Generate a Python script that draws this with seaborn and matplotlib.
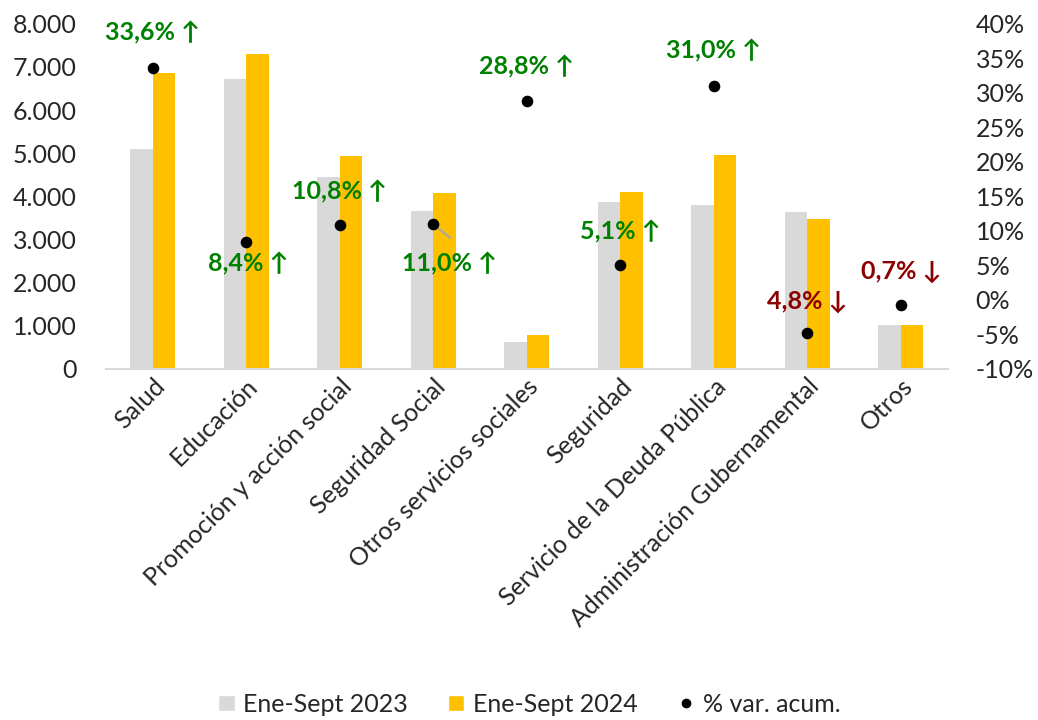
import matplotlib
matplotlib.use("Agg")
import matplotlib.pyplot as plt
import seaborn as sns
import pandas as pd
from matplotlib.patches import Patch
from matplotlib.lines import Line2D
from matplotlib.ticker import FuncFormatter

categories = ["Salud", "Educación", "Promoción y acción social", "Seguridad Social",
              "Otros servicios sociales", "Seguridad", "Servicio de la Deuda Pública",
              "Administración Gubernamental", "Otros"]
vals_2023 = [5100, 6730, 4460, 3650, 620, 3880, 3790, 3630, 1020]
vals_2024 = [6850, 7300, 4930, 4070, 790, 4090, 4970, 3470, 1020]
var_pct = [33.6, 8.4, 10.8, 11.0, 28.8, 5.1, 31.0, -4.8, -0.7]
series_names = ["Ene-Sept 2023", "Ene-Sept 2024"]
var_name = "% var. acum."

sns.set_theme(style="white")
plt.rcParams['font.family'] = ['Lato', 'DejaVu Sans']

df = pd.DataFrame({
    "cat": categories * 2,
    "val": vals_2023 + vals_2024,
    "serie": [series_names[0]] * len(categories) + [series_names[1]] * len(categories),
})
dfp = pd.DataFrame({"cat": categories, "pct": var_pct})

fig = plt.figure(figsize=(10.38, 7.2), dpi=100)
ax = fig.add_axes([0.102, 0.4875, 0.811, 0.4795])
colors = ["#d9d9d9", "#ffc000"]
sns.barplot(data=df, x="cat", y="val", hue="serie", palette=colors, width=0.48,
            gap=0, linewidth=0, saturation=1, ax=ax, legend=False)
ax.set_ylim(0, 8000)
ax.set_yticks(range(0, 8001, 1000))
ax.yaxis.set_major_formatter(FuncFormatter(lambda v, p: f"{int(v):,}".replace(",", ".")))
ax.set_xlabel("")
ax.set_ylabel("")
ax.tick_params(axis="y", labelsize=18, length=0, pad=21)
ax.tick_params(axis="x", labelsize=18, length=0, pad=4)
plt.setp(ax.get_xticklabels(), rotation=45, ha="right", rotation_mode="anchor")
for s in ["top", "right", "left"]:
    ax.spines[s].set_visible(False)
ax.spines["bottom"].set_color("#d9d9d9")
ax.spines["bottom"].set_linewidth(1.5)

ax2 = ax.twinx()
sns.scatterplot(data=dfp, x="cat", y="pct", color="black", s=70, linewidth=0, ax=ax2, zorder=5)
ax2.set_ylim(-10, 40)
ax2.set_yticks(range(-10, 41, 5))
ax2.yaxis.set_major_formatter(FuncFormatter(lambda v, p: f"{int(v)}%"))
ax2.tick_params(axis="y", labelsize=18, length=0, pad=20)
ax2.set_ylabel("")
for s in ["top", "right", "left", "bottom"]:
    ax2.spines[s].set_visible(False)
ax.set_xlim(-0.5, len(categories) - 0.5)
ax2.set_xlim(-0.5, len(categories) - 0.5)

offsets = [(0, 35), (2, -22), (0, 34), (16, -40), (0, 34), (0, 33), (0, 35), (0, 32), (0, 33)]
for i, (c, p) in enumerate(zip(categories, var_pct)):
    up = p > 0
    txt = f"{abs(p):.1f}".replace(".", ",") + "% " + ("↑" if up else "↓")
    col = "#008000" if up else "#8b0000"
    ax2.annotate(txt, xy=(i, p), xytext=offsets[i], textcoords="offset pixels",
                 ha="center", va="center", fontsize=18, fontweight="bold", color=col)
    if c == "Seguridad Social":
        ax2.annotate("", xy=(i, p), xytext=(17, -14), textcoords="offset pixels",
                     arrowprops=dict(arrowstyle="-", color="#a6a6a6", lw=1.5, shrinkA=0, shrinkB=3))

handles = [Patch(facecolor=colors[0], label=series_names[0]),
           Patch(facecolor=colors[1], label=series_names[1]),
           Line2D([], [], marker="o", color="black", linestyle="none", markersize=6, label=var_name)]
fig.legend(handles=handles, loc="center", bbox_to_anchor=(0.51, 0.022), ncol=3, frameon=False,
           fontsize=18, handlelength=0.65, handleheight=0.65, columnspacing=1.6, handletextpad=0.35)

fig.savefig("out.png", dpi=100)
